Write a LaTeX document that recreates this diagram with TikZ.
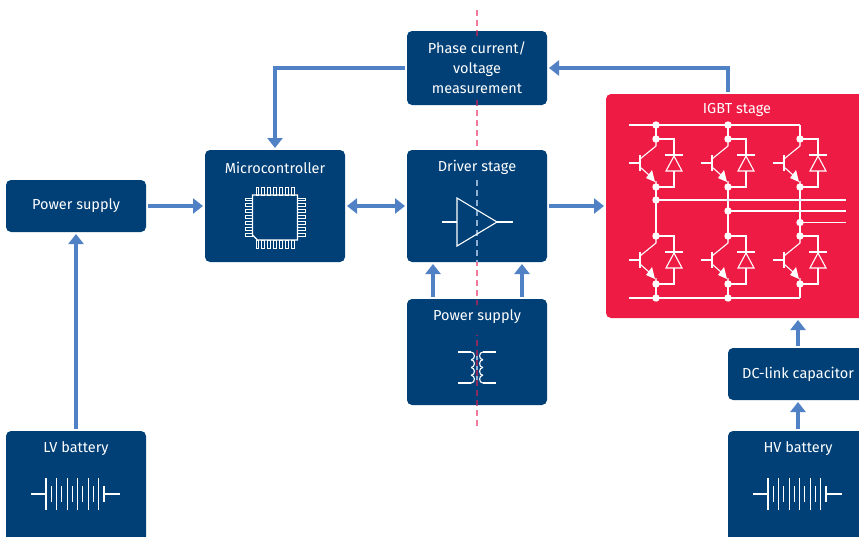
\documentclass[tikz,border=0pt]{standalone}
\usepackage{fontspec}
\setmainfont{Fira Sans}
\usetikzlibrary{arrows.meta}
\definecolor{boxblue}{HTML}{004077}
\definecolor{igbtred}{HTML}{EE1B45}
\definecolor{linkblue}{HTML}{4F81C4}
\definecolor{cutpink}{HTML}{F27A9B}
\definecolor{cutdark}{HTML}{8A2A5E}
\definecolor{cutlight}{HTML}{8FB0D0}

\tikzset{
  main box/.style={rounded corners=5pt,fill=boxblue,text=white,font=\fontsize{14.5}{20}\selectfont,
                   align=center,inner sep=0pt,outer sep=0pt,minimum width=140pt},
  box text/.style={text=white,font=\fontsize{14.5}{20}\selectfont},
  link/.style={line width=4.5pt,linkblue,-{Triangle[width=15pt,length=10pt]},shorten >=2pt,shorten <=2pt},
  both link/.style={link,{Triangle[width=15pt,length=10pt]}-{Triangle[width=15pt,length=10pt]}},
  icon/.style={white,line width=1.1pt},
  cut line/.style={line width=1.6pt,dash pattern=on 6pt off 4pt},
  pics/igbt cell/.style={code={
    \draw[icon] (-27,24) -- (-16,24) (-16,16) -- (-16,32);
    \draw[icon] (-16,20) -- (0,7) (0,0) -- (0,7);
    \draw[icon] (-16,28) -- (-7,36) (0,42) -- (0,48);
    \fill[white] (-1,43) -- (-10,39) -- (-4,31) -- cycle;
    \draw[icon] (0,0) -- (18,0) -- (18,16) (9,16) -- (27,16);
    \draw[icon] (18,17) -- (10,32) -- (26,32) -- cycle;
    \draw[icon] (18,32) -- (18,48) -- (0,48);
    \fill[white] (0,0) circle (3.7) (0,48) circle (3.7);
  }},
  pics/battery/.style={code={
    \draw[icon] (-45,0) -- (-30,0) (29,0) -- (44,0);
    \foreach \i in {0,2,4,6,8,10} \draw[icon] (-30+5.27*\i,-16) -- (-30+5.27*\i,16);
    \foreach \i in {1,3,5,7,9,11} \draw[icon] (-30+5.27*\i,-8) -- (-30+5.27*\i,8);
  }}
}

\begin{document}
\begin{tikzpicture}[x=1pt,y=-1pt]
  \useasboundingbox (0,0) rectangle (859,536);
  \clip (0,0) rectangle (859,536);

  % section line, under the boxes
  \coordinate (cuttop) at (477,10);
  \coordinate (cutbottom) at (477,428);
  \draw[cut line,cutpink] (cuttop) -- (cutbottom);

  \node[main box,minimum height=52pt] (power) at (76,206) {Power supply};
  \node[main box,minimum height=112pt] (micro) at (275,206) {};
  \node[main box,minimum height=112pt] (driver) at (477,206) {};
  \node[main box,minimum height=74pt] (phase) at (477,68) {Phase current/\\voltage\\measurement};
  \node[main box,minimum height=106pt] (supply) at (477,352) {};
  \node[main box,minimum height=112pt] (lv) at (76,487) {};
  \node[main box,minimum height=112pt] (hv) at (798,487) {};
  \node[main box,minimum height=52pt] (dclink) at (798,374) {DC-link capacitor};
  \node[main box,fill=igbtred,minimum width=262pt,minimum height=224pt] (igbt) at (737,206) {};

  % section line, seen through the boxes
  \draw[cut line,cutlight] (477,180) -- (477,262);
  \draw[line width=1.3pt,cutlight] (477,352) -- (477,384);
  \begin{scope}
    \clip (470,31) rectangle (484,36) (470,97) rectangle (484,105) (470,299) rectangle (484,305) (470,335) rectangle (484,405);
    \draw[cut line,cutdark] (cuttop) -- (cutbottom);
  \end{scope}

  % labels
  \node[box text] (microtext) at (275,167.5) {Microcontroller};
  \node[box text] (drivertext) at (477,167.5) {Driver stage};
  \node[box text] (supplytext) at (477,317) {Power supply};
  \node[box text] (lvtext) at (76,449) {LV battery};
  \node[box text] (hvtext) at (798,449) {HV battery};
  \node[box text] (igbttext) at (737,110) {IGBT stage};

  % chip
  \draw[icon] (252.5,195) -- (297.5,195) -- (297.5,240) -- (257.5,240) -- (252.5,235) -- cycle;
  \foreach \i in {0,...,6} {
    \draw[icon,line width=.8pt] (256+5.85*\i,187) rectangle +(2.8,8);
    \draw[icon,line width=.8pt] (256+5.85*\i,240) rectangle +(2.8,8);
    \draw[icon,line width=.8pt] (245,198+5.85*\i) rectangle +(7.5,2.8);
    \draw[icon,line width=.8pt] (297.5,198+5.85*\i) rectangle +(7.5,2.8);
  }

  % driver
  \draw[icon] (457,198) -- (497,222) -- (457,246) -- cycle;
  \draw[icon] (441.5,222) -- (457,222) (497,222) -- (512.5,222);

  % transformer
  \draw[icon] (458,352) -- (471,352);
  \draw[icon] (496,352) -- (483,352);
  \draw[icon] (458,383) -- (471,383);
  \draw[icon] (496,383) -- (483,383);
  \foreach \i in {0,...,3} {
    \draw[icon] (471,352+7.75*\i) .. controls (475.5,352+7.75*\i) and (475.5,359.75+7.75*\i) .. (471,359.75+7.75*\i);
    \draw[icon] (483,352+7.75*\i) .. controls (478.5,352+7.75*\i) and (478.5,359.75+7.75*\i) .. (483,359.75+7.75*\i);
  }

  \pic at (76,494) {battery};
  \pic at (798,494) {battery};

  % igbt bridge
  \foreach \x in {656,728,800} {
    \pic at (\x,139) {igbt cell};
    \pic at (\x,236) {igbt cell};
    \draw[icon] (\x,187) -- (\x,236);
    \draw[icon] (\x,125) -- (\x,139);
    \draw[icon] (\x,283) -- (\x,298);
  }
  \draw[icon] (629,125) -- (800,125) (629,298) -- (800,298);
  \draw[icon] (656,200) -- (846,200) (728,211) -- (846,211) (800,222.5) -- (846,222.5);
  \fill[white] (656,125) circle (3.7) (728,125) circle (3.7) (656,298) circle (3.7) (728,298) circle (3.7)
               (656,200) circle (3.7) (728,211) circle (3.7) (800,222.5) circle (3.7);

  % connectors
  \draw[link] (power.east) -- (micro.west);
  \draw[both link] (micro.east) -- (driver.west);
  \draw[link] (driver.east) -- (driver.east -| igbt.west);
  \draw[link] (lv.north) -- (power.south);
  \draw[link] (phase.west) -| (micro.north);
  \draw[link] ([xshift=-9pt]igbt.north) |- (phase.east);
  \draw[link] ([xshift=-44pt]supply.north) -- ([xshift=-44pt]driver.south);
  \draw[link] ([xshift=45pt]supply.north) -- ([xshift=45pt]driver.south);
  \draw[link] (dclink.north) -- (dclink.north |- igbt.south);
  \draw[link] (hv.north) -- (dclink.south);
\end{tikzpicture}
\end{document}
